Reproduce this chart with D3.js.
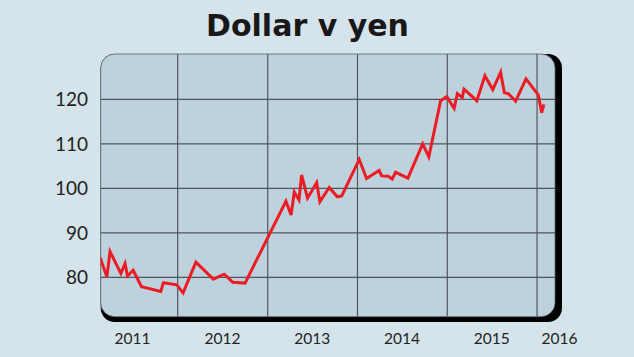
<!DOCTYPE html>
<html>
<head>
<meta charset="utf-8">
<script src="https://cdn.jsdelivr.net/npm/d3@7"></script>
<style>
  body { margin: 0; background: #d5e3eb; }
  svg { display: block; }
  .ylab, .xlab { font-family: Lato, "Open Sans", sans-serif; fill: #231f20; }
</style>
</head>
<body>
<div class="container"></div>
<script>
// values
var dates = ["2011-02-20","2011-03-19","2011-04-01","2011-05-15","2011-06-01","2011-06-11","2011-07-04",
  "2011-08-07","2011-10-24","2011-11-04","2011-12-28","2012-01-23","2012-03-15","2012-05-25","2012-07-08",
  "2012-08-12","2012-10-01","2013-03-16","2013-04-06","2013-04-19","2013-05-08","2013-05-19","2013-06-12",
  "2013-07-19","2013-08-01","2013-09-08","2013-10-11","2013-10-29","2014-01-08","2014-02-07","2014-03-30",
  "2014-04-09","2014-05-06","2014-05-22","2014-06-05","2014-07-25","2014-09-23","2014-10-18","2014-12-05",
  "2014-12-30","2015-01-29","2015-02-11","2015-03-03","2015-03-10","2015-05-01","2015-06-03","2015-07-05",
  "2015-08-06","2015-08-21","2015-09-06","2015-10-06","2015-11-17","2016-01-06","2016-01-20","2016-01-29"]
var rates = [84.4,80.1,85.8,80.9,83.1,80.3,81.6,
  77.9,76.8,78.8,78.3,76.5,83.4,79.6,80.7,
  78.9,78.7,97.1,94.0,99.2,97.4,103.0,97.8,
  101.3,97.0,100.2,98.1,98.3,106.5,102.2,104.0,
  102.8,102.7,102.1,103.6,102.3,110.0,107.1,119.7,
  120.6,118.0,121.3,120.4,122.3,119.7,125.3,122.2,
  126.1,121.5,121.3,119.6,124.6,121.0,117.0,118.9]

var yTicks = [80, 90, 100, 110, 120]
var gridYears = ["2012-01-01","2013-01-01","2014-01-01","2015-01-01","2016-01-01"]
var yearLabels = ["2011","2012","2013","2014","2015","2016"]
var yearLabelDates = ["2011-07-01","2012-07-01","2013-07-01","2014-07-01","2015-07-01","2016-04-01"]

var parse = d3.timeParse("%Y-%m-%d")

var width = 634, height = 357
var box = { left: 100.7, top: 54, right: 555, bottom: 316.7 }

var svg = d3.select(".container").append("svg")
    .attr("width", width)
    .attr("height", height)

svg.append("rect")
  .attr("width", width).attr("height", height)
  .attr("fill", "#d5e3eb")

var x = d3.scaleTime()
  .domain([parse("2011-02-22"), parse("2016-03-14")])
  .range([box.left, box.right])

var y = d3.scaleLinear()
  .domain([71.15, 130.2])
  .range([box.bottom, box.top])

// title
svg.append("text")
  .attr("x", 307.5).attr("y", 35.7)
  .attr("text-anchor", "middle")
  .style("font-family", "'DejaVu Sans', sans-serif")
  .style("font-weight", "bold")
  .style("font-size", "30px")
  .attr("fill", "#1a1718")
  .text("Dollar v yen")

// shadow behind the panel
svg.append("rect")
  .attr("x", box.left).attr("y", box.top)
  .attr("width", box.right - box.left + 7)
  .attr("height", box.bottom - box.top + 5.3)
  .attr("rx", 14).attr("ry", 14)
  .attr("fill", "#000")

svg.append("clipPath").attr("id", "panel")
  .append("rect")
  .attr("x", box.left).attr("y", box.top)
  .attr("width", box.right - box.left)
  .attr("height", box.bottom - box.top)
  .attr("rx", 14).attr("ry", 14)

svg.append("rect")
  .attr("x", box.left).attr("y", box.top)
  .attr("width", box.right - box.left)
  .attr("height", box.bottom - box.top)
  .attr("rx", 14).attr("ry", 14)
  .attr("fill", "#bed2dd")
  .attr("stroke", "#5a5f63")
  .attr("stroke-width", 0.8)

var g = svg.append("g").attr("clip-path", "url(#panel)")

// ---------- GRID ----------
g.selectAll(".hgrid")
  .data(yTicks)
  .enter().append("line")
  .attr("x1", box.left).attr("x2", box.right)
  .attr("y1", function(d) { return y(d) })
  .attr("y2", function(d) { return y(d) })
  .attr("stroke", "#50565a")
  .attr("stroke-width", 1.2)

g.selectAll(".vgrid")
  .data(gridYears)
  .enter().append("line")
  .attr("x1", function(d) { return x(parse(d)) })
  .attr("x2", function(d) { return x(parse(d)) })
  .attr("y1", box.top).attr("y2", box.bottom)
  .attr("stroke", "#50565a")
  .attr("stroke-width", 1.2)

// ---------- LINE ----------
var series = dates.map(function(d, i) { return { date: parse(d), value: rates[i] } })

var line = d3.line()
  .x(function(d) { return x(d.date) })
  .y(function(d) { return y(d.value) })

g.append("path")
  .datum(series)
  .attr("d", line)
  .attr("fill", "none")
  .attr("stroke", "#ec1c24")
  .attr("stroke-width", 3)
  .attr("stroke-linejoin", "miter")

// ---------- LABELS ----------
svg.selectAll(".ylab")
  .data(yTicks)
  .enter().append("text")
  .attr("class", "ylab")
  .attr("x", 88)
  .attr("y", function(d) { return y(d) })
  .attr("dy", "0.36em")
  .attr("text-anchor", "end")
  .style("font-size", "19px")
  .text(function(d) { return d })

svg.selectAll(".xlab")
  .data(yearLabels)
  .enter().append("text")
  .attr("class", "xlab")
  .attr("x", function(d, i) { return x(parse(yearLabelDates[i])) })
  .attr("y", 344)
  .attr("text-anchor", "middle")
  .style("font-size", "15.5px")
  .text(function(d) { return d })
</script>
</body>
</html>
